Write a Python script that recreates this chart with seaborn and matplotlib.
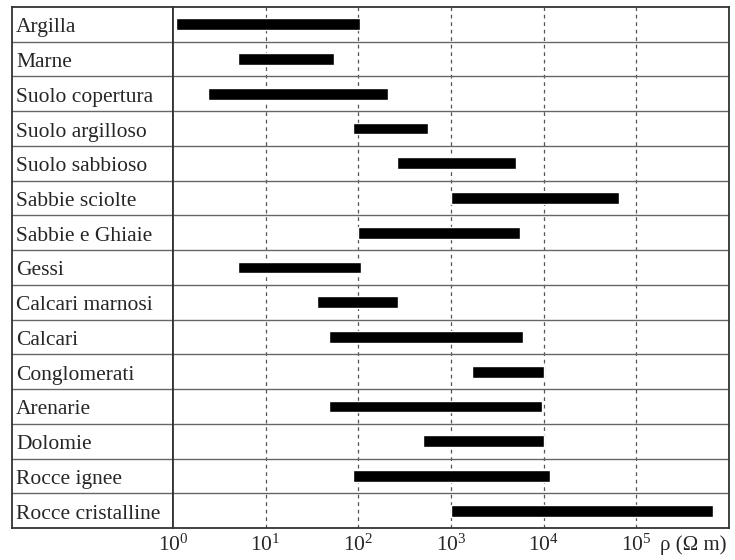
import matplotlib
matplotlib.use("Agg")
import matplotlib.pyplot as plt
import seaborn as sns

# Resistività delle rocce (range min - max, Ohm m)
rocce = ["Argilla", "Marne", "Suolo copertura", "Suolo argilloso", "Suolo sabbioso",
         "Sabbie sciolte", "Sabbie e Ghiaie", "Gessi", "Calcari marnosi", "Calcari",
         "Conglomerati", "Arenarie", "Dolomie", "Rocce ignee", "Rocce cristalline"]
rho_min = [1.07, 5, 2.4, 87, 260, 1000, 98, 5, 36, 48, 1700, 48, 500, 87, 1000]
rho_max = [105, 54, 210, 570, 5000, 65000, 5500, 107, 270, 6000, 10000, 9600, 10000, 11600, 665000]
decadi = [1, 10, 100, 1000, 10000, 100000]
etichette_decadi = [r"$10^{0}$", r"$10^{1}$", r"$10^{2}$", r"$10^{3}$", r"$10^{4}$", r"$10^{5}$"]

sns.set_style("white")
plt.rcParams["font.family"] = ["Liberation Serif", "DejaVu Serif"]
plt.rcParams["mathtext.fontset"] = "custom"
plt.rcParams["mathtext.rm"] = "Liberation Serif"
plt.rcParams["mathtext.it"] = "Liberation Serif:italic"

W, H = 735, 560
x0, xdiv, x1 = 12, 173, 729
ytop, ybot = 7, 528
fig = plt.figure(figsize=(W / 100, H / 100), dpi=100)
ax_lab = fig.add_axes([x0 / W, 1 - ybot / H, (xdiv - x0) / W, (ybot - ytop) / H])
ax = fig.add_axes([xdiv / W, 1 - ybot / H, (x1 - xdiv) / W, (ybot - ytop) / H])

n = len(rocce)
pos = list(range(n))
larghezze = [b - a for a, b in zip(rho_min, rho_max)]

# barre orizzontali flottanti su scala log
ax.set_xscale("log")
ax.set_xlim(1, 1e6)
ax.barh(pos, larghezze, left=rho_min, height=0.34, color="black", zorder=3)

for d in decadi[1:]:
    ax.axvline(d, color="#555555", lw=0.9, ls=(0, (3, 3)), zorder=1)

for a in (ax, ax_lab):
    a.set_ylim(n - 0.5, -0.5)
    a.set_yticks([])
    for i in range(1, n):
        a.axhline(i - 0.5, color="#666666", lw=1, zorder=2)
    for s in a.spines.values():
        s.set_visible(True)
        s.set_color("#333333")
        s.set_linewidth(1.3)

# colonna etichette
ax_lab.set_xlim(0, 1)
ax_lab.set_xticks([])
for i, r in enumerate(rocce):
    ax_lab.text(0.025, i + 0.23, r, va="baseline", ha="left", fontsize=15.5)

ax.set_xticks(decadi, etichette_decadi)
ax.minorticks_off()
ax.tick_params(axis="x", length=0, pad=5, labelsize=15.5)
ax.annotate("ρ (Ω m)", xy=(1e5, 0), xycoords=("data", "axes fraction"),
            xytext=(17, -5), textcoords="offset points", va="top", ha="left", fontsize=15)

fig.savefig("out.png", dpi=100)
